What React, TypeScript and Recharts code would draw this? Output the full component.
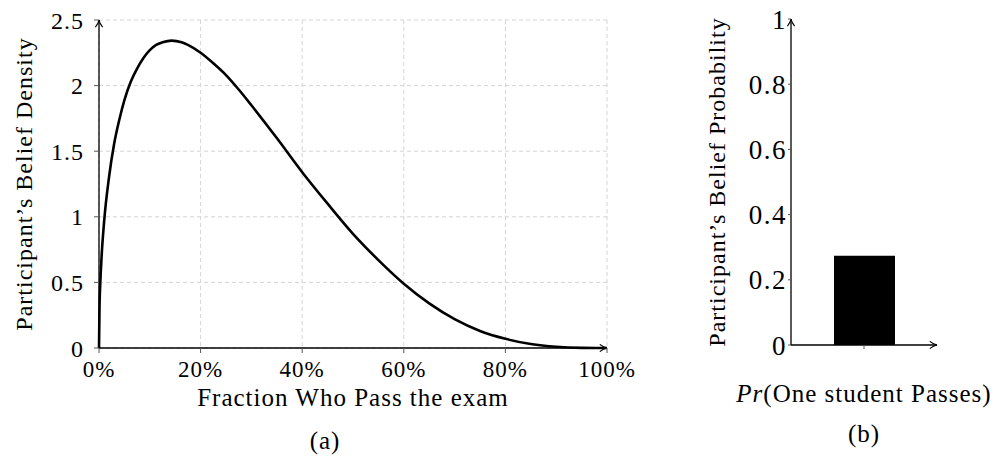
import React from 'react';
import { LineChart, Line, BarChart, Bar, XAxis, YAxis, CartesianGrid } from 'recharts';

// belief density over the fraction who pass
const fractions = [0, 0.001, 0.0025, 0.005, 0.01, 0.02, 0.03, 0.04, 0.05, 0.0625, 0.075, 0.0875, 0.1, 0.1125, 0.125, 0.143, 0.1625, 0.175, 0.2, 0.225, 0.25, 0.275, 0.3, 0.35, 0.4, 0.45, 0.5, 0.55, 0.6, 0.65, 0.7, 0.75, 0.8, 0.85, 0.9, 0.95, 1];
const densities = [0, 0.31, 0.49, 0.69, 0.96, 1.31, 1.56, 1.74, 1.89, 2.03, 2.13, 2.21, 2.27, 2.31, 2.33, 2.343, 2.331, 2.31, 2.25, 2.17, 2.08, 1.97, 1.85, 1.6, 1.34, 1.1, 0.87, 0.67, 0.49, 0.34, 0.22, 0.13, 0.07, 0.03, 0.009, 0.001, 0];
const xTicks = [0, 0.2, 0.4, 0.6, 0.8, 1];
const yTicks = [0, 0.5, 1, 1.5, 2, 2.5];

// single bar: probability one student passes
const barCategories = ['Pr(One student Passes)'];
const barValues = [0.274];
const probTicks = [0, 0.2, 0.4, 0.6, 0.8, 1];

const FONT = '"Liberation Serif", "DejaVu Serif", serif';

const curveData = fractions.map((x, i) => ({ x, y: densities[i] }));
const barData = barCategories.map((name, i) => ({ name, value: barValues[i] }));

const axisStyle = { stroke: '#000', strokeWidth: 1.3 };

function RotLabel({ x, y, size, children }: { x: number; y: number; size: number; children: React.ReactNode }) {
  return (
    <div
      style={{
        position: 'absolute',
        left: x,
        top: y,
        transform: 'translate(-50%, -50%) rotate(-90deg)',
        whiteSpace: 'nowrap',
        fontSize: size,
        lineHeight: 1,
        letterSpacing: 1,
      }}
    >
      {children}
    </div>
  );
}

function TextAt({ x, top, size, children }: { x: number; top: number; size: number; children: React.ReactNode }) {
  return (
    <div
      style={{
        position: 'absolute',
        left: x,
        top,
        transform: 'translateX(-50%)',
        whiteSpace: 'nowrap',
        fontSize: size,
        lineHeight: 1,
        letterSpacing: 1,
      }}
    >
      {children}
    </div>
  );
}

export default function App() {
  return (
    <div style={{ position: 'absolute', left: 0, top: 0, width: 997, height: 458, background: '#fff', fontFamily: FONT, color: '#000' }}>
      <svg width="0" height="0" style={{ position: 'absolute' }}>
        <defs>
          <marker id="arrowHead" viewBox="0 0 10 10" refX="9" refY="5" markerWidth="9" markerHeight="9" markerUnits="userSpaceOnUse" orient="auto-start-reverse">
            <path d="M1,1 Q5,4.2 9,5 Q5,5.8 1,9" fill="none" stroke="#000" strokeWidth="1.3" />
          </marker>
        </defs>
      </svg>

      <div style={{ position: 'absolute', left: 0, top: 0 }}>
        <LineChart width={640} height={458} data={curveData} margin={{ top: 20, right: 33, left: 0, bottom: 0 }}>
          <CartesianGrid stroke="#d4d4d4" strokeDasharray="4 3" />
          <XAxis
            dataKey="x"
            type="number"
            domain={[0, 1]}
            ticks={xTicks}
            height={110}
            tickFormatter={(v: number) => `${Math.round(v * 100)}%`}
            tick={{ fontSize: 23, fill: '#000', fontFamily: FONT, letterSpacing: 1 }}
            tickSize={5}
            tickMargin={8}
            tickLine={{ stroke: '#555' }}
            axisLine={{ ...axisStyle, markerEnd: 'url(#arrowHead)' }}
          />
          <YAxis
            type="number"
            domain={[0, 2.5]}
            ticks={yTicks}
            width={99}
            tick={{ fontSize: 24, fill: '#000', fontFamily: FONT, letterSpacing: 1 }}
            tickSize={5}
            tickMargin={10}
            tickLine={{ stroke: '#555' }}
            axisLine={{ ...axisStyle, markerStart: 'url(#arrowHead)' }}
          />
          <Line type="monotone" dataKey="y" stroke="#000" strokeWidth={2.6} dot={false} isAnimationActive={false} />
        </LineChart>
      </div>

      <div style={{ position: 'absolute', left: 680, top: 0 }}>
        <BarChart width={317} height={458} data={barData} margin={{ top: 19, right: 60, left: 0, bottom: 0 }}>
          <XAxis
            dataKey="name"
            height={113}
            tickFormatter={() => ''}
            tickSize={4}
            tickLine={{ stroke: '#555' }}
            axisLine={{ ...axisStyle, markerEnd: 'url(#arrowHead)' }}
          />
          <YAxis
            type="number"
            domain={[0, 1]}
            ticks={probTicks}
            width={111}
            tick={{ fontSize: 27, fill: '#000', fontFamily: FONT, letterSpacing: 1.5 }}
            tickSize={3}
            tickMargin={1}
            tickLine={{ stroke: '#555' }}
            axisLine={{ ...axisStyle, markerStart: 'url(#arrowHead)' }}
          />
          <Bar dataKey="value" fill="#000" barSize={61} isAnimationActive={false} />
        </BarChart>
      </div>

      <RotLabel x={24} y={184} size={24}>Participant’s Belief Density</RotLabel>
      <TextAt x={353} top={385} size={25}>Fraction Who Pass the exam</TextAt>
      <TextAt x={325} top={428} size={25}>(a)</TextAt>

      <RotLabel x={717} y={182} size={24}>Participant’s Belief Probability</RotLabel>
      <TextAt x={864} top={381} size={25}>
        <i>Pr</i>(One student Passes)
      </TextAt>
      <TextAt x={864} top={421} size={25}>(b)</TextAt>
    </div>
  );
}
